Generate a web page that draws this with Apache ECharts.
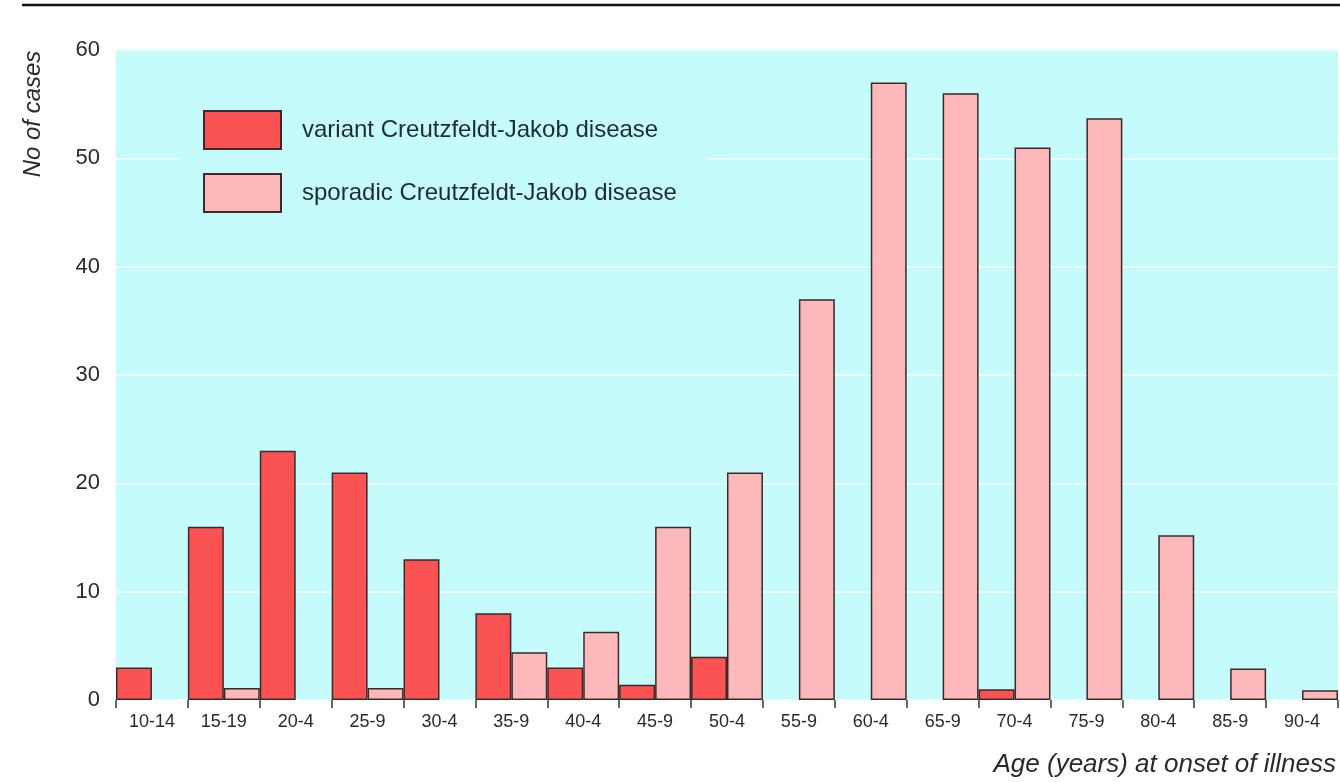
<!DOCTYPE html>
<html>
<head>
<meta charset="utf-8">
<script src="https://cdn.jsdelivr.net/npm/echarts@6/dist/echarts.min.js"></script>
<style>
html, body { margin: 0; padding: 0; background: #fff; }
#main { width: 1340px; height: 782px; }
</style>
</head>
<body>
<div id="main"></div>
<script>
// age groups at onset
var ageGroups = ['10-14', '15-19', '20-4', '25-9', '30-4', '35-9', '40-4', '45-9', '50-4',
	'55-9', '60-4', '65-9', '70-4', '75-9', '80-4', '85-9', '90-4'];
// variant CJD cases
var variantCases = [3, 16, 23, 21, 13, 8, 3, 1.4, 4, 0, 0, 0, 1, 0, 0, 0, 0];
// sporadic CJD cases
var sporadicCases = [0, 1.1, 0, 1.1, 0, 4.4, 6.3, 16, 21, 37, 57, 56, 51, 53.7, 15.2, 2.9, 0.9];
var yTicks = [0, 10, 20, 30, 40, 50, 60];

// empty groups get no bar at all
function noZero(arr) {
	return arr.map(function (v) { return v === 0 ? null : v; });
}

var myChart = echarts.init(document.getElementById('main'));

var bg = '#c6fbfb';
var txt = "'Liberation Sans', Arial, sans-serif";

myChart.setOption({
	animation: false,
	backgroundColor: '#fff',
	grid: {
		left: 116, right: 2, top: 50, bottom: 82,
		show: true, backgroundColor: bg, borderWidth: 0
	},
	legend: {
		orient: 'vertical',
		left: 180, top: 100,
		itemWidth: 77, itemHeight: 38, itemGap: 23,
		icon: 'rect',
		backgroundColor: bg,
		padding: [10, 30, 10, 23],
		textStyle: { fontFamily: txt, fontSize: 24, color: '#1d2c2c', padding: [0, 0, 0, 16] },
		data: ['variant Creutzfeldt-Jakob disease', 'sporadic Creutzfeldt-Jakob disease']
	},
	xAxis: {
		type: 'category',
		data: ageGroups,
		axisLine: { show: false },
		axisTick: { show: true, length: 8, lineStyle: { color: '#333', width: 1.5 } },
		axisLabel: { fontFamily: txt, fontSize: 18, color: '#2a2a2a', margin: 13 }
	},
	yAxis: {
		type: 'value',
		min: yTicks[0], max: yTicks[yTicks.length - 1], interval: 10,
		axisLine: { show: false },
		axisTick: { show: false },
		axisLabel: { fontFamily: txt, fontSize: 22, color: '#2a2a2a', margin: 16 },
		splitLine: { lineStyle: { color: '#eefefe', width: 2 } }
	},
	series: [{
		name: 'variant Creutzfeldt-Jakob disease',
		type: 'bar',
		data: noZero(variantCases),
		barGap: '0%',
		barCategoryGap: '0%',
		itemStyle: { color: '#fb5353', borderColor: '#3a2a2a', borderWidth: 1.5 }
	}, {
		name: 'sporadic Creutzfeldt-Jakob disease',
		type: 'bar',
		data: noZero(sporadicCases),
		barGap: '0%',
		barCategoryGap: '0%',
		itemStyle: { color: '#fdb9b9', borderColor: '#3a2a2a', borderWidth: 1.5 }
	}],
	graphic: [{
		type: 'line',
		shape: { x1: 22, y1: 5, x2: 1340, y2: 5 },
		style: { stroke: '#111', lineWidth: 2.5 }
	}, {
		type: 'text',
		x: 33, y: 114,
		rotation: Math.PI / 2,
		style: {
			text: 'No of cases', fontFamily: txt, fontSize: 24, fontStyle: 'italic',
			fill: '#2a2a2a', align: 'center', verticalAlign: 'middle'
		}
	}, {
		type: 'text',
		x: 1336, y: 765,
		style: {
			text: 'Age (years) at onset of illness', fontFamily: txt, fontSize: 26, fontStyle: 'italic',
			fill: '#2a2a2a', align: 'right', verticalAlign: 'middle'
		}
	}]
});
</script>
</body>
</html>
